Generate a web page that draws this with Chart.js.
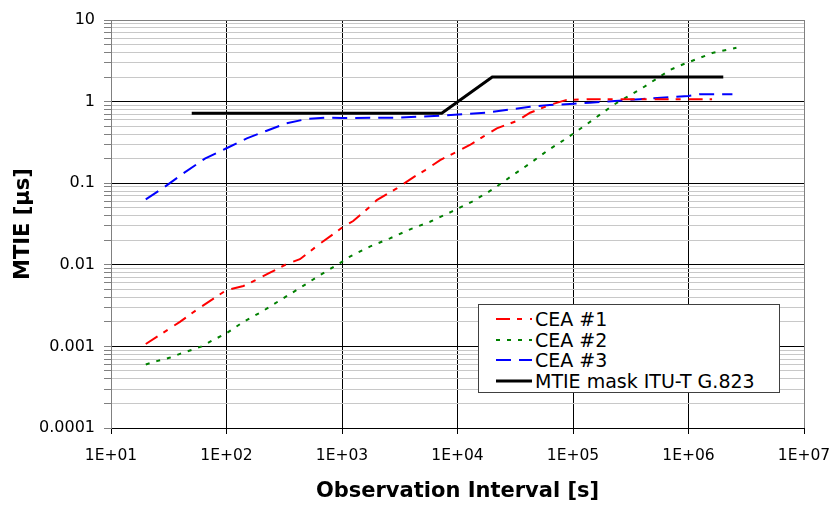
<!DOCTYPE html>
<html>
<head>
<meta charset="utf-8">
<script src="https://cdn.jsdelivr.net/npm/chart.js@4.4.0/dist/chart.umd.min.js"></script>
<style>
  html, body { margin: 0; padding: 0; background: #fff; }
  #wrap { position: relative; width: 831px; height: 506px; }
  #legend { position: absolute; left: 478px; top: 304px; width: 300px; height: 87px; border: 1px solid #404040; background: #fff; font-family: 'DejaVu Sans'; font-size: 19px; color: #000; }
  .row { position: absolute; left: 0; height: 20px; line-height: 20px; white-space: nowrap; }
  .row svg { position: absolute; left: 17px; top: 0; }
  .row span { position: absolute; left: 56px; top: 0; }
</style>
</head>
<body>
<div id="wrap">
  <canvas id="mtie" width="831" height="506"></canvas>
  <div id="legend"></div>
</div>
<script>
const xTickValues = [1e1, 1e2, 1e3, 1e4, 1e5, 1e6, 1e7];
const xTickLabels = ['1E+01', '1E+02', '1E+03', '1E+04', '1E+05', '1E+06', '1E+07'];
const yTickValues = [1e-4, 1e-3, 1e-2, 1e-1, 1, 10];
const yTickLabels = ['0.0001', '0.001', '0.01', '0.1', '1', '10'];

const seriesNames = ['CEA #1', 'CEA #2', 'CEA #3', 'MTIE mask ITU-T G.823'];

const cea1X = [20, 30, 39.5, 59, 100, 140, 160, 238, 331, 432, 623, 840, 1026, 1250, 1740, 2000, 2980, 4140, 5260, 7070, 9840, 12800, 16700, 21900, 32600, 42500, 63000, 88000, 132000, 400000, 1600000];
const cea1Y = [0.00107, 0.00155, 0.002, 0.003, 0.0049, 0.0055, 0.006, 0.008, 0.0102, 0.0117, 0.0175, 0.0238, 0.0293, 0.0344, 0.0515, 0.062, 0.0865, 0.118, 0.145, 0.192, 0.243, 0.294, 0.372, 0.471, 0.578, 0.73, 0.91, 1.05, 1.07, 1.07, 1.07];

const cea2X = [20, 24.9, 32.5, 39.5, 48.3, 61, 77, 100, 140, 202, 300, 432, 647, 960, 1170, 1740, 2600, 3890, 5780, 8900, 13700, 20400, 29400, 42500, 61000, 88000, 132000, 224000, 408000, 690000, 900000, 1640000, 2600000];
const cea2Y = [0.0006, 0.00066, 0.00073, 0.00081, 0.00089, 0.001, 0.0012, 0.00145, 0.002, 0.00266, 0.00378, 0.0052, 0.0075, 0.0105, 0.0126, 0.0167, 0.0211, 0.0272, 0.0337, 0.0448, 0.0605, 0.085, 0.1225, 0.175, 0.255, 0.355, 0.53, 0.91, 1.5, 2.44, 2.87, 3.98, 4.57];

const cea3X = [20, 29.3, 42.3, 65, 100, 150, 223, 331, 494, 738, 1000, 3000, 7070, 17800, 42500, 63000, 94000, 140000, 380000, 1000000, 1250000, 2400000];
const cea3Y = [0.0635, 0.0906, 0.132, 0.2, 0.268, 0.355, 0.44, 0.542, 0.612, 0.635, 0.63, 0.635, 0.671, 0.73, 0.866, 0.91, 0.935, 0.97, 1.07, 1.17, 1.23, 1.23];

const maskX = [50, 7300, 20000, 2000000];
const maskY = [0.72, 0.72, 2, 2];

const pts = (xs, ys) => xs.map((x, i) => ({ x: x, y: ys[i] }));
const isDecade = v => Math.abs(Math.log10(v) - Math.round(Math.log10(v))) < 1e-9;

const datasets = [
  { label: seriesNames[0], data: pts(cea1X, cea1Y), borderColor: '#ff0000', borderWidth: 2, borderDash: [14, 7, 5, 8], order: 2 },
  { label: seriesNames[1], data: pts(cea2X, cea2Y), borderColor: '#008000', borderWidth: 2, borderDash: [4, 7], order: 3 },
  { label: seriesNames[2], data: pts(cea3X, cea3Y), borderColor: '#0000ff', borderWidth: 2, borderDash: [15, 8], order: 4 },
  { label: seriesNames[3], data: pts(maskX, maskY), borderColor: '#000000', borderWidth: 3, borderDash: [], order: 1 }
];
datasets.forEach(d => { d.pointRadius = 0; d.tension = 0; d.fill = false; });

new Chart(document.getElementById('mtie'), {
  type: 'line',
  data: { datasets: datasets },
  options: {
    responsive: false,
    animation: false,
    devicePixelRatio: 1,
    layout: { padding: { top: 20, right: 27, left: 0, bottom: 0 } },
    plugins: { legend: { display: false }, tooltip: { enabled: false } },
    scales: {
      x: {
        type: 'logarithmic',
        min: 10, max: 1e7,
        afterBuildTicks: s => { s.ticks = xTickValues.map(v => ({ value: v, major: true })); },
        afterFit: s => { s.height = 78; s.paddingLeft = 0; s.paddingRight = 0; },
        ticks: {
          autoSkip: false, maxRotation: 0, padding: 13, color: '#000',
          font: { family: 'DejaVu Sans', size: 15.5 },
          callback: v => xTickLabels[xTickValues.findIndex(t => Math.abs(t - v) / t < 1e-6)] || ''
        },
        grid: {
          color: c => c.index === xTickValues.length - 1 ? '#808080' : '#000',
          tickColor: '#000', tickLength: 6, lineWidth: 1
        },
        border: { color: '#000' },
        title: {
          display: true, text: 'Observation Interval [s]', color: '#000',
          font: { family: 'DejaVu Sans', size: 21, weight: 'bold' },
          padding: { top: 0, bottom: 2 }
        }
      },
      y: {
        type: 'logarithmic',
        min: 1e-4, max: 10,
        afterBuildTicks: s => {
          const t = [];
          for (let k = -4; k <= 0; k++) {
            for (let m = 1; m <= 9; m++) t.push({ value: m * Math.pow(10, k), major: m === 1 });
          }
          t.push({ value: 10, major: true });
          s.ticks = t;
        },
        afterFit: s => { s.width = 111; s.paddingTop = 0; s.paddingBottom = 0; },
        ticks: {
          autoSkip: false, padding: 9, color: '#000',
          font: { family: 'DejaVu Sans', size: 16 },
          callback: v => {
            if (!isDecade(v)) return '';
            const i = yTickValues.findIndex(t => Math.abs(t - v) / t < 1e-6);
            return i >= 0 ? yTickLabels[i] : '';
          }
        },
        grid: {
          color: c => {
            const v = c.tick.value;
            if (!isDecade(v)) return '#c8c8c8';
            return v >= 10 ? '#808080' : '#000';
          },
          tickColor: '#808080', tickLength: 7, lineWidth: 1
        },
        border: { color: '#808080' },
        title: {
          display: true, text: 'MTIE [µs]', color: '#000',
          font: { family: 'DejaVu Sans', size: 21, weight: 'bold' },
          padding: { top: 11, bottom: 0 }
        }
      }
    }
  }
});

const legend = document.getElementById('legend');
datasets.forEach((d, i) => {
  const row = document.createElement('div');
  row.className = 'row';
  row.style.top = (4 + i * 20.6) + 'px';
  row.style.width = '300px';
  const dash = d.borderDash.length ? d.borderDash.join(',') : 'none';
  row.innerHTML = '<svg width="36" height="20"><line x1="0" y1="10" x2="36" y2="10" stroke="' + d.borderColor +
    '" stroke-width="' + d.borderWidth + '" stroke-dasharray="' + dash + '"/></svg><span>' + d.label + '</span>';
  legend.appendChild(row);
});
</script>
</body>
</html>
